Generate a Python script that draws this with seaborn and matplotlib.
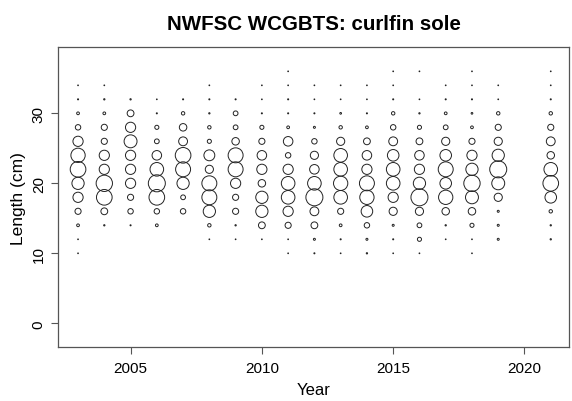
import numpy as np
import pandas as pd
import matplotlib
matplotlib.use("Agg")
import matplotlib.pyplot as plt
import seaborn as sns

# length bins (cm) and survey years
lengths = [10, 12, 14, 16, 18, 20, 22, 24, 26, 28, 30, 32, 34, 36]
years = [2003, 2004, 2005, 2006, 2007, 2008, 2009, 2010, 2011,
         2012, 2013, 2014, 2015, 2016, 2017, 2018, 2019, 2021]

# relative composition per year (bubble area), one value per length bin
comp_2003 = [0.002, 0.002, 0.026, 0.13, 0.36, 0.518, 0.846, 0.706, 0.36, 0.102, 0.026, 0.004, 0.002, 0]
comp_2004 = [0, 0, 0.006, 0.16, 0.846, 0.922, 0.36, 0.36, 0.13, 0.13, 0.026, 0.006, 0.002, 0]
comp_2005 = [0, 0, 0.004, 0.102, 0.13, 0.36, 0.36, 0.36, 0.578, 0.36, 0.16, 0.006, 0, 0]
comp_2006 = [0, 0, 0.026, 0.102, 0.846, 1.0, 0.64, 0.314, 0.078, 0.058, 0.004, 0.002, 0, 0]
comp_2007 = [0, 0, 0, 0.102, 0.078, 0.518, 0.774, 0.846, 0.27, 0.194, 0.04, 0.004, 0, 0]
comp_2008 = [0, 0.002, 0.04, 0.518, 0.774, 0.774, 0.23, 0.41, 0.058, 0.04, 0.006, 0.004, 0.002, 0]
comp_2009 = [0, 0.002, 0.006, 0.13, 0.13, 0.36, 0.774, 0.774, 0.194, 0.078, 0.078, 0.004, 0, 0]
comp_2010 = [0, 0.002, 0.16, 0.518, 0.518, 0.194, 0.36, 0.314, 0.13, 0.058, 0.004, 0.002, 0.002, 0]
comp_2011 = [0.002, 0.002, 0.13, 0.36, 0.64, 0.64, 0.36, 0.102, 0.314, 0.026, 0.004, 0.004, 0.002, 0.002]
comp_2012 = [0.004, 0.014, 0.16, 0.27, 1.0, 0.64, 0.314, 0.23, 0.102, 0.014, 0.004, 0.002, 0.002, 0]
comp_2013 = [0.002, 0.004, 0.026, 0.13, 0.64, 0.706, 0.64, 0.64, 0.23, 0.04, 0.01, 0.002, 0.002, 0]
comp_2014 = [0.006, 0.014, 0.102, 0.462, 0.706, 0.774, 0.36, 0.314, 0.16, 0.026, 0.004, 0.002, 0.002, 0]
comp_2015 = [0.002, 0.004, 0.014, 0.23, 0.36, 0.64, 0.64, 0.462, 0.27, 0.102, 0.04, 0.004, 0.002, 0.002]
comp_2016 = [0.002, 0.058, 0.078, 0.23, 1.0, 0.518, 0.36, 0.314, 0.16, 0.058, 0.006, 0.002, 0, 0.002]
comp_2017 = [0, 0.002, 0.006, 0.194, 0.706, 0.462, 0.774, 0.462, 0.23, 0.078, 0.026, 0.004, 0.002, 0]
comp_2018 = [0.002, 0.002, 0.058, 0.194, 0.578, 0.922, 0.518, 0.36, 0.13, 0.026, 0.01, 0.004, 0.002, 0.002]
comp_2019 = [0, 0.014, 0.014, 0.014, 0.23, 0.578, 1.0, 0.518, 0.23, 0.13, 0.04, 0.002, 0.002, 0]
comp_2021 = [0, 0.006, 0.006, 0.04, 0.462, 0.846, 0.64, 0.194, 0.27, 0.13, 0.04, 0.004, 0.002, 0.002]

comps = [comp_2003, comp_2004, comp_2005, comp_2006, comp_2007, comp_2008,
         comp_2009, comp_2010, comp_2011, comp_2012, comp_2013, comp_2014,
         comp_2015, comp_2016, comp_2017, comp_2018, comp_2019, comp_2021]

rows = []
for yr, comp in zip(years, comps):
    for ln, val in zip(lengths, comp):
        if val > 0:
            rows.append((yr, ln, val))
df = pd.DataFrame(rows, columns=["Year", "Length", "Prop"])

sns.set_theme(style="white")
plt.rcParams['font.family'] = ['Liberation Sans', 'DejaVu Sans']

fig = plt.figure(figsize=(5.72, 4.02), dpi=100)
ax = fig.add_axes([0.102, 0.1336, 0.893, 0.7474])

sns.scatterplot(data=df, x="Year", y="Length", size="Prop",
                sizes=(0, 150), size_norm=(0, 1), legend=False,
                facecolor="none", edgecolor="#222222", linewidth=0.7,
                ax=ax)

ax.set_xlim(2002.25, 2021.7)
ax.set_ylim(-3.43, 39.5)
ax.set_xticks([2005, 2010, 2015, 2020])
ax.set_yticks([0, 10, 20, 30])
ax.set_yticklabels(["0", "10", "20", "30"], rotation=90, va="center")
ax.tick_params(axis="both", direction="out", length=5, width=0.8,
               color="#555555", labelsize=11, pad=3, labelcolor="black")
ax.tick_params(axis="x", pad=5)
ax.tick_params(axis="y", pad=4)
ax.xaxis.set_ticks_position("bottom")
ax.yaxis.set_ticks_position("left")
for sp in ax.spines.values():
    sp.set_color("#555555")
    sp.set_linewidth(0.9)

ax.set_xlabel("Year", fontsize=12, color="black", labelpad=5)
ax.set_ylabel("Length (cm)", fontsize=12.5, color="black", labelpad=4)
ax.set_title("NWFSC WCGBTS: curlfin sole", fontsize=14.8, fontweight="bold",
             color="black", pad=13)

fig.savefig("out.png", dpi=100)
